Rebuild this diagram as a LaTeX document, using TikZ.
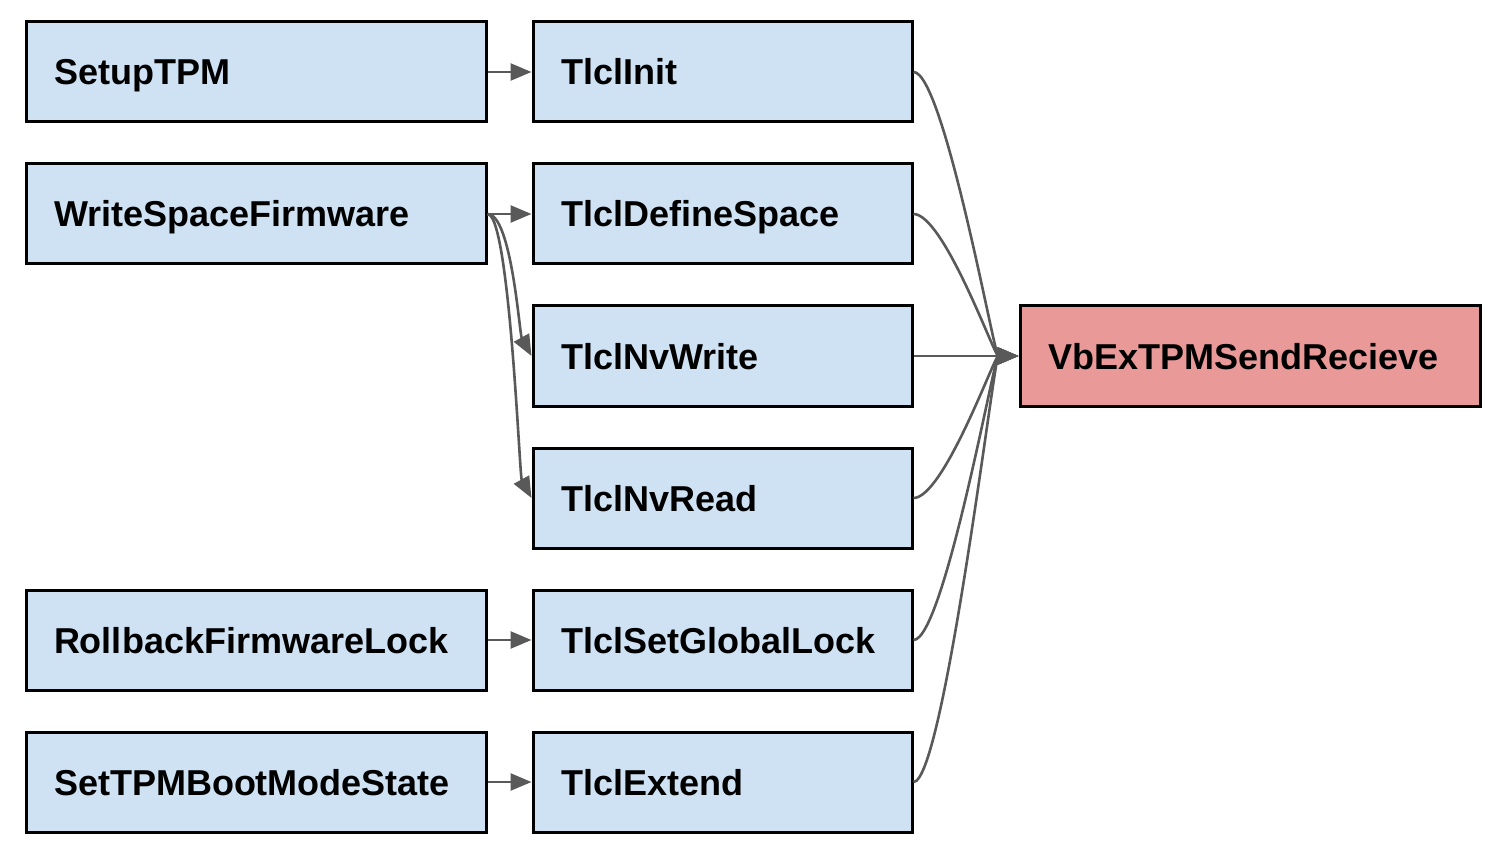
\documentclass[tikz,border=0pt]{standalone}
\usepackage{fontspec}
\setmainfont{Liberation Sans}
\usepackage{xcolor}
\usetikzlibrary{arrows.meta}
\definecolor{boxblue}{HTML}{CFE2F3}
\definecolor{boxred}{HTML}{EA9999}
\definecolor{linkgray}{HTML}{595959}

\begin{document}
\begin{tikzpicture}[x=1pt,y=-1pt,
          every node/.style={font=\fontsize{36}{43}\selectfont\bfseries},
          func/.style={draw,line width=3pt,fill=boxblue,
                       minimum height=100pt,inner xsep=28pt,align=left,
                       text height=30pt,text depth=4pt},
          wide/.style={func,minimum width=460pt,text width=404pt},
          narrow/.style={func,minimum width=379pt,text width=323pt},
          link/.style={draw=linkgray,line width=2.6pt,
                       -{Triangle[length=21pt,width=17pt]}},
      ]
        \useasboundingbox (0,0) rectangle (1506,866);

        % callers
        \node[wide] (setup)    at (256,72)  {SetupTPM};
        \node[wide] (writefw)  at (256,214) {WriteSpaceFirmware};
        \node[wide] (rollback) at (256,640) {RollbackFirmwareLock};
        \node[wide] (bootmode) at (256,782) {SetTPMBootModeState};

        % tlcl layer
        \node[narrow] (init)       at (722.5,72)  {TlclInit};
        \node[narrow] (define)     at (722.5,214) {TlclDefineSpace};
        \node[narrow] (nvwrite)    at (722.5,356) {TlclNvWrite};
        \node[narrow] (nvread)     at (722.5,498) {TlclNvRead};
        \node[narrow] (globallock) at (722.5,640) {TlclSetGlobalLock};
        \node[narrow] (extend)     at (722.5,782) {TlclExtend};

        \node[wide,fill=boxred] (send) at (1250,356) {VbExTPMSendRecieve};

        \draw[link] (setup) -- (init);
        \draw[link] (writefw) -- (define);
        \draw[link] (writefw.east) .. controls +(24,0) and +(-12,-22) .. (nvwrite.west);
        \draw[link] (writefw.east) .. controls +(22,0) and +(-12,-22) .. (nvread.west);
        \draw[link] (rollback) -- (globallock);
        \draw[link] (bootmode) -- (extend);

        % everything ends up in the send call
        \foreach \n in {init,define,nvread,globallock,extend}
          \draw[link] (\n.east) .. controls +(30,0) and +(-24,0) .. (send.west);
        \draw[link] (nvwrite) -- (send);
      \end{tikzpicture}
\end{document}
